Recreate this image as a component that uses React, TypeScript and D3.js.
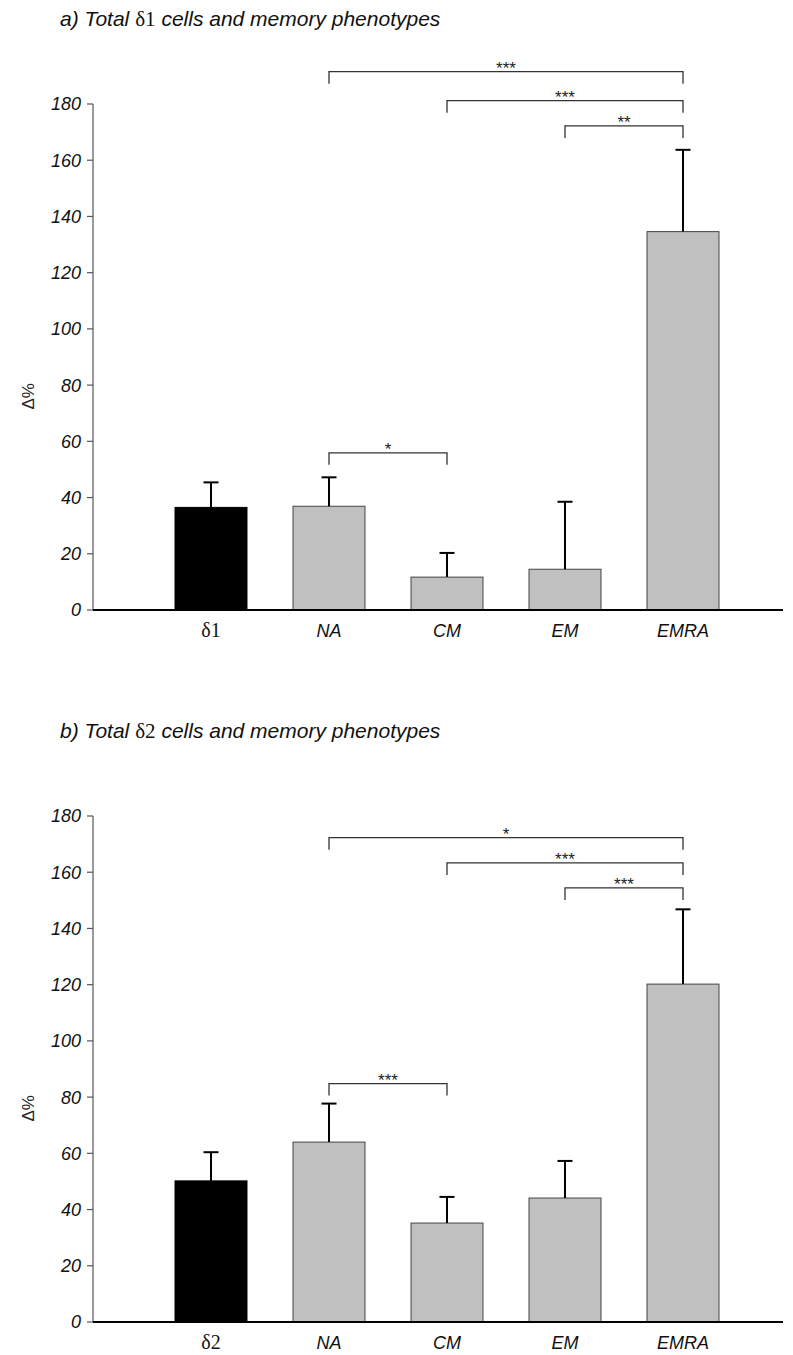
import React from "react";
import * as d3 from "d3";

const WIDTH = 793;
const HEIGHT = 1355;

// Panel a: total δ1 cells and memory phenotypes
const categoriesA = ["δ1", "NA", "CM", "EM", "EMRA"];
const meansA = [36.5, 36.9, 11.7, 14.5, 134.6];
const upperA = [45.4, 47.2, 20.3, 38.5, 163.7];

// Panel b: total δ2 cells and memory phenotypes
const categoriesB = ["δ2", "NA", "CM", "EM", "EMRA"];
const meansB = [50.2, 64.0, 35.2, 44.1, 120.2];
const upperB = [60.4, 77.7, 44.5, 57.3, 146.8];

const yTicks = [0, 20, 40, 60, 80, 100, 120, 140, 160, 180];

type Bracket = { from: number; to: number; level: number; label: string };

const bracketsA: Bracket[] = [
  { from: 1, to: 4, level: 191.5, label: "***" },
  { from: 2, to: 4, level: 181.2, label: "***" },
  { from: 3, to: 4, level: 172.2, label: "**" },
  { from: 1, to: 2, level: 55.9, label: "*" },
];

const bracketsB: Bracket[] = [
  { from: 1, to: 4, level: 172.3, label: "*" },
  { from: 2, to: 4, level: 163.3, label: "***" },
  { from: 3, to: 4, level: 154.4, label: "***" },
  { from: 1, to: 2, level: 84.8, label: "***" },
];

const SANS = "'Liberation Sans', Arial, Helvetica, sans-serif";
const SERIF = "'Liberation Serif', 'Times New Roman', serif";

type PanelProps = {
  top: number;
  letter: string;
  subset: string;
  categories: string[];
  means: number[];
  upper: number[];
  brackets: Bracket[];
};

function Panel({ top, letter, subset, categories, means, upper, brackets }: PanelProps) {
  const axisX = 93;
  const baseY = top + 506;

  const y = d3.scaleLinear().domain([0, 180]).range([baseY, baseY - 506]);
  const x = d3
    .scaleBand<string>()
    .domain(categories.map((_, i) => String(i)))
    .range([152, 742])
    .paddingInner(0.39)
    .paddingOuter(0.195);
  const bw = x.bandwidth();
  const cx = (i: number) => (x(String(i)) as number) + bw / 2;
  const capHalf = 7.5;
  const drop = 12;

  return (
    <g>
      {/* title */}
      <text
        x={60}
        y={top - 78}
        fontFamily={SANS}
        fontStyle="italic"
        fontSize={21}
        fill="#111"
      >
        {letter}) Total{" "}
        <tspan fontFamily={SERIF} fontStyle="normal">
          {subset}
        </tspan>{" "}
        cells and memory phenotypes
      </text>

      {/* y axis */}
      <line x1={axisX} x2={axisX} y1={y(180)} y2={baseY} stroke="#555" strokeWidth={1.2} />
      {yTicks.map((t) => (
        <g key={t}>
          <line x1={axisX - 6} x2={axisX} y1={y(t)} y2={y(t)} stroke="#555" strokeWidth={1.2} />
          <text
            x={axisX - 12}
            y={y(t)}
            dy="0.36em"
            textAnchor="end"
            fontFamily={SANS}
            fontStyle="italic"
            fontSize={18}
            fill="#111"
          >
            {t}
          </text>
        </g>
      ))}
      <text
        transform={`translate(34, ${y(76)}) rotate(-90)`}
        textAnchor="middle"
        fontFamily={SANS}
        fontSize={17}
        fill="#222"
      >
        Δ%
      </text>

      {/* bars */}
      {means.map((m, i) => (
        <rect
          key={i}
          x={x(String(i))}
          y={y(m)}
          width={bw}
          height={baseY - y(m)}
          fill={i === 0 ? "#000" : "#c0c0c0"}
          stroke={i === 0 ? "#000" : "#444"}
          strokeWidth={1}
        />
      ))}

      {/* error bars (upper only) */}
      {upper.map((u, i) => (
        <g key={i} stroke="#000" strokeWidth={2}>
          <line x1={cx(i)} x2={cx(i)} y1={y(means[i])} y2={y(u)} />
          <line x1={cx(i) - capHalf} x2={cx(i) + capHalf} y1={y(u)} y2={y(u)} />
        </g>
      ))}

      {/* x axis */}
      <line x1={axisX} x2={783} y1={baseY} y2={baseY} stroke="#000" strokeWidth={1.8} />
      {categories.map((c, i) => (
        <text
          key={c}
          x={cx(i)}
          y={baseY + 27}
          textAnchor="middle"
          fontFamily={i === 0 ? SERIF : SANS}
          fontStyle={i === 0 ? "normal" : "italic"}
          fontSize={i === 0 ? 20 : 18}
          fill="#111"
        >
          {c}
        </text>
      ))}

      {/* significance brackets */}
      {brackets.map((b, k) => {
        const x1 = cx(b.from);
        const x2 = cx(b.to);
        const yy = y(b.level);
        return (
          <g key={k}>
            <path
              d={`M${x1},${yy + drop}V${yy}H${x2}V${yy + drop}`}
              fill="none"
              stroke="#333"
              strokeWidth={1.3}
            />
            <text
              x={(x1 + x2) / 2}
              y={yy + 2}
              textAnchor="middle"
              fontFamily={SANS}
              fontSize={17}
              fill="#222"
            >
              {b.label}
            </text>
          </g>
        );
      })}
    </g>
  );
}

export default function App() {
  return (
    <svg
      width={WIDTH}
      height={HEIGHT}
      viewBox={`0 0 ${WIDTH} ${HEIGHT}`}
      style={{ position: "absolute", left: 0, top: 0, background: "#fff" }}
    >
      <rect width={WIDTH} height={HEIGHT} fill="#fff" />
      <Panel
        top={104}
        letter="a"
        subset="δ1"
        categories={categoriesA}
        means={meansA}
        upper={upperA}
        brackets={bracketsA}
      />
      <Panel
        top={816}
        letter="b"
        subset="δ2"
        categories={categoriesB}
        means={meansB}
        upper={upperB}
        brackets={bracketsB}
      />
    </svg>
  );
}
